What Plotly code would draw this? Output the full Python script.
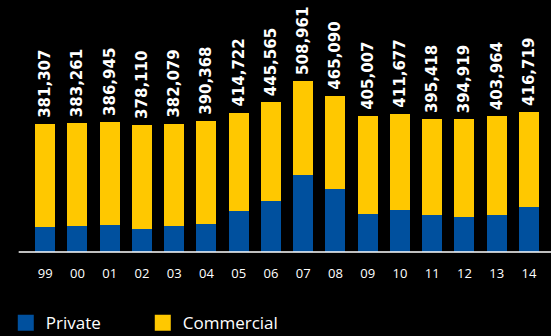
import plotly.graph_objects as go

years = ["99", "00", "01", "02", "03", "04", "05", "06", "07", "08", "09", "10", "11", "12", "13", "14"]
totals = [381307, 383261, 386945, 378110, 382079, 390368, 414722, 445565,
          508961, 465090, 405007, 411677, 395418, 394919, 403964, 416719]
private = [74000, 77000, 80000, 68000, 76000, 84000, 122000, 153000,
           230000, 186000, 112000, 125000, 109000, 103000, 110000, 133000]
commercial = [t - p for t, p in zip(totals, private)]
total_labels = ["\u2009" + f"{t:,}" for t in totals]

BLUE = "#00509E"
YELLOW = "#FFC800"

fig = go.Figure()
fig.add_trace(go.Bar(x=years, y=private, marker_color=BLUE, marker_line_width=0,
                     showlegend=False, hoverinfo="skip"))
fig.add_trace(go.Bar(x=years, y=commercial, marker_color=YELLOW, marker_line_width=0,
                     showlegend=False, text=total_labels, textposition="outside",
                     textangle=-90, cliponaxis=False, constraintext="none",
                     textfont=dict(family="DejaVu Sans", size=15, color="white", weight="bold")))
# legend entries
fig.add_trace(go.Scatter(x=[None], y=[None], mode="markers", name="Private",
                         marker=dict(symbol="square", size=16, color=BLUE)))
fig.add_trace(go.Scatter(x=[None], y=[None], mode="markers", name="Commercial",
                         marker=dict(symbol="square", size=16, color=YELLOW)))

fig.add_shape(type="line", xref="paper", yref="paper", x0=-0.02, x1=1.02, y0=0, y1=0,
              line=dict(color="white", width=1.5))

fig.update_layout(
    width=551, height=336,
    margin=dict(l=29, r=6, t=10, b=84, autoexpand=False),
    paper_bgcolor="black", plot_bgcolor="black",
    barmode="stack", bargap=0.38,
    font=dict(family="Open Sans", color="white"),
    xaxis=dict(type="category", showgrid=False, zeroline=False, showline=False,
               ticks="", ticklabelstandoff=12, tickfont=dict(size=13, color="white")),
    yaxis=dict(range=[0, 720000], visible=False, showgrid=False, zeroline=False),
    legend=dict(orientation="h", x=-0.045, xanchor="left", y=-0.22, yanchor="top",
                traceorder="normal",
                font=dict(size=17, color="white"), itemsizing="trace",
                entrywidth=92, entrywidthmode="pixels", bgcolor="rgba(0,0,0,0)"),
)

fig.write_html("out.html")
